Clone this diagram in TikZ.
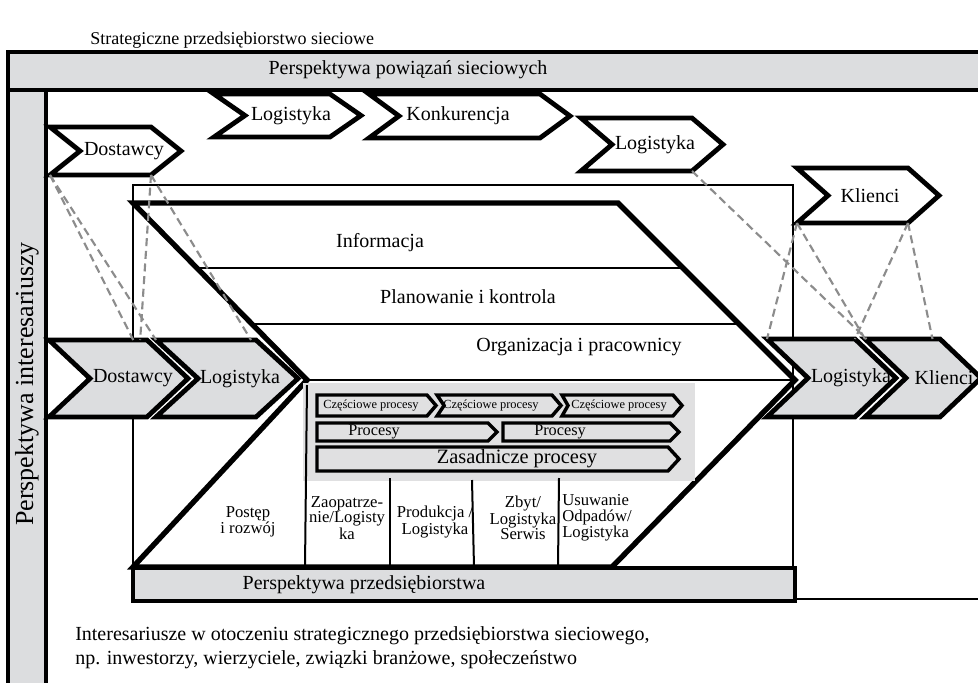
\documentclass[tikz,border=0pt]{standalone}
\usepackage{fontspec}
\setmainfont{Liberation Serif}
\usetikzlibrary{calc}
\definecolor{bandgray}{RGB}{220,221,223}
\definecolor{boxgray}{RGB}{224,224,225}
\definecolor{linkgray}{RGB}{140,140,140}

\begin{document}
\begin{tikzpicture}[x=0.75pt,y=-0.75pt,
  chev/.style={draw=black,line width=3.6pt,fill=white},
  gchev/.style={chev,fill=bandgray},
  proc/.style={draw=black,line width=2.6pt,fill=boxgray},
  thinline/.style={black,line width=1.5pt},
  link/.style={draw=linkgray,line width=1.6pt,dash pattern=on 6pt off 3.5pt},
  lbl/.style={inner sep=0pt,font=\fontsize{15}{17}\selectfont},
  col/.style={inner sep=0pt,align=center,font=\fontsize{12.5}{11.3}\selectfont}]

\clip (0,0) rectangle (978,682);
\fill[white] (0,0) rectangle (978,682);

% title
\node[anchor=west,inner sep=0pt,font=\fontsize{13.5}{15}\selectfont] (title) at (90,40)
  {Strategiczne przedsiębiorstwo sieciowe};

% outer frame: network band on top, stakeholder band on the left
\draw[line width=3pt,fill=bandgray] (8,52) rectangle (995,90);
\draw[line width=3pt,fill=bandgray] (8,90) rectangle (46,700);
\node[lbl] (netband) at (408,70) {Perspektywa powiązań sieciowych};
\node[inner sep=0pt,rotate=90,font=\fontsize{19.5}{21}\selectfont] (stakeband) at (27,384)
  {Perspektywa interesariuszy};

% enterprise frame
\draw[thinline] (133,185) rectangle (793,600);
\draw[thinline] (793,599) -- (995,599);

% big chevron of the enterprise
\coordinate (bnw) at (133,203);
\coordinate (bne) at (618,203);
\coordinate (btip) at (795,380);
\coordinate (bse) at (612,567);
\coordinate (bsw) at (133,567);
\coordinate (bnotch) at (307,380);
\draw[line width=4pt,fill=white] (bnw) -- (bne) -- (btip) -- (bse) -- (bsw) -- (bnotch) -- cycle;
\draw[thinline] ($(bnw)!.367!(bnotch)$) -- ($(bne)!.367!(btip)$);
\draw[thinline] ($(bnw)!.684!(bnotch)$) -- ($(bne)!.684!(btip)$);
\draw[thinline] (bnotch) -- (btip);
\node[lbl] (info) at (380,243) {Informacja};
\node[lbl] (plan) at (468,297) {Planowanie i kontrola};
\node[lbl] (org) at (579,347) {Organizacja i pracownicy};

% processes
\fill[boxgray] (303,383) rectangle (695,481);
\draw[proc] (317,395) -- (427,395) -- (436,405.5) -- (427,416) -- (317,416) -- cycle;
\draw[proc] (437,395) -- (552,395) -- (561,405.5) -- (552,416) -- (437,416) -- (444,405.5) -- cycle;
\draw[proc] (562,395) -- (673,395) -- (682,405.5) -- (673,416) -- (562,416) -- (568,405.5) -- cycle;
\draw[proc] (317,423) -- (488,423) -- (497,432) -- (488,441) -- (317,441) -- cycle;
\draw[proc] (503,423) -- (670,423) -- (679,432) -- (670,441) -- (503,441) -- cycle;
\draw[proc] (317,447) -- (668,447) -- (679,459) -- (668,471) -- (317,471) -- cycle;
\foreach \nm/\tx in {cp1/371, cp2/491, cp3/619}
  \node[inner sep=0pt,font=\fontsize{9.3}{10}\selectfont] (\nm) at (\tx,406) {Częściowe procesy};
\node[inner sep=0pt,font=\fontsize{12.2}{13}\selectfont] (proc1) at (374,432) {Procesy};
\node[inner sep=0pt,font=\fontsize{12.2}{13}\selectfont] (proc2) at (560,432) {Procesy};
\node[inner sep=0pt,font=\fontsize{15.3}{16}\selectfont] (core) at (517,459) {Zasadnicze procesy};

% functional columns
\draw[thinline] (307,385) -- (305,567);
\draw[thinline] (390,478) -- (390,567);
\draw[thinline] (472,480) -- (474,567);
\draw[thinline] (559,478) -- (558,567);
\node[col] (postep) at (248,522) {Postęp\\ i rozwój};
\node[col] (zaop) at (347,518) {Zaopatrze-\\nie/Logisty\\ka};
\node[col] (prod) at (435,522) {Produkcja /\\Logistyka};
\node[col] (zbyt) at (523,518) {Zbyt/\\Logistyka\\Serwis};
\node[col,align=left,anchor=west] (odpady) at (562,518) {Usuwanie\\Odpadów/\\Logistyka};

% enterprise band
\draw[line width=3.5pt,fill=bandgray] (133,568) rectangle (795,601);
\node[lbl] (entband) at (364,585) {Perspektywa przedsiębiorstwa};

% top row: white chevrons
\foreach \nm/\xa/\xb/\dd/\ya/\yb/\tx/\txt in {
    topdost/50/151/30/127/175/124/Dostawcy,
    toplog/214/330/31/94/137/291/Logistyka,
    konk/369/540/30/94/138/458/Konkurencja,
    toplogr/581/692/31/118/171/655/Logistyka,
    topkli/797/908/31/168/223/870/Klienci}{
  \draw[chev] (\xa,\ya) -- (\xb,\ya) -- (\xb+\dd,{(\ya+\yb)/2}) -- (\xb,\yb)
    -- (\xa,\yb) -- (\xa+\dd,{(\ya+\yb)/2}) -- cycle;
  \node[lbl] (\nm) at (\tx,{(\ya+\yb)/2}) {\txt};
  \coordinate (\nm-sw) at (\xa,\yb);
  \coordinate (\nm-se) at (\xb,\yb);
}

% middle row: gray chevrons
\foreach \nm/\xa/\xb/\dd/\ya/\yb/\tx/\txt in {
    gdost/49/147/41/340/417/133/Dostawcy,
    glog/156/256/42/340/417/240/Logistyka,
    glogr/767/855/41/339/417/851/Logistyka,
    gkli/865/940/41/339/417/944/Klienci}{
  \draw[gchev] (\xa,\ya) -- (\xb,\ya) -- (\xb+\dd,{(\ya+\yb)/2}) -- (\xb,\yb)
    -- (\xa,\yb) -- (\xa+\dd,{(\ya+\yb)/2}) -- cycle;
  \node[lbl] (\nm) at (\tx,{(\ya+\yb)/2}) {\txt};
  \coordinate (\nm-nw) at (\xa,\ya);
  \coordinate (\nm-ne) at (\xb,\ya);
}

% links between the rows
\draw[link] (topdost-sw) -- ($(gdost-nw)!.86!(gdost-ne)$);
\draw[link] (topdost-sw) -- (glog-nw);
\draw[link] (topdost-se) -- ($(gdost-nw)!.93!(gdost-ne)$);
\draw[link] (topdost-se) -- ($(glog-nw)!.95!(glog-ne)$);
\draw[link] (toplogr-se) -- ($(gkli-nw)!.02!(gkli-ne)$);
\draw[link] (topkli-sw) -- (glogr-nw);
\draw[link] (topkli-sw) -- (gkli-nw);
\draw[link] (topkli-se) -- (glogr-ne);
\draw[link] (topkli-se) -- ($(gkli-nw)!.9!(gkli-ne)$);

% stakeholders
\node[anchor=west,align=left,inner sep=0pt,font=\fontsize{15}{18}\selectfont] (stake) at (75,648)
  {Interesariusze w otoczeniu strategicznego przedsiębiorstwa sieciowego,\\
   np. inwestorzy, wierzyciele, związki branżowe, społeczeństwo};
\end{tikzpicture}
\end{document}
